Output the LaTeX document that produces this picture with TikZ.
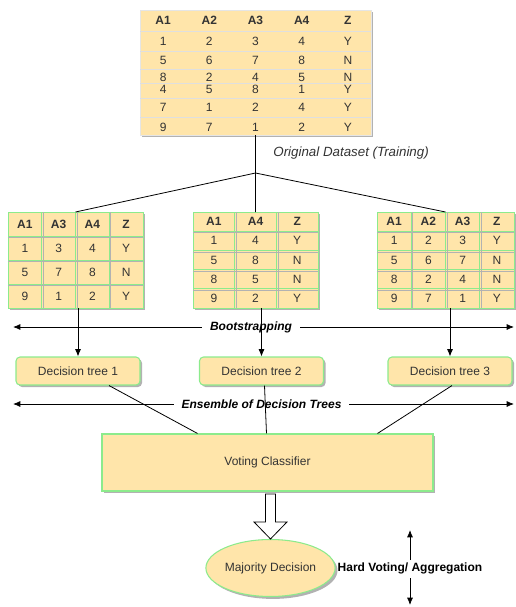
\documentclass[tikz,border=0pt]{standalone}
\usepackage{fontspec}
\setmainfont{Liberation Sans}
\usetikzlibrary{positioning,shapes.geometric,shadows,arrows.meta}
\definecolor{fillc}{RGB}{255,229,170}
\definecolor{edgec}{RGB}{140,235,140}
\definecolor{textc}{RGB}{51,51,51}
\def\px{0.75pt}
\tikzset{
  tip/.tip={Latex[length=5.5pt,width=4.5pt]},
  celltext/.style={text=textc,font=\fontsize{9}{10}\selectfont,inner sep=0pt},
  cellbox/.style={draw=edgec,fill=fillc,line width=0.7pt,inner sep=0pt,text=textc,font=\fontsize{9}{10}\selectfont},
  tableshade/.style={fill=fillc,inner sep=0pt,outer sep=0pt,drop shadow={shadow xshift=1.8pt,shadow yshift=-1.8pt,fill=black,opacity=0.3}},
  origbox/.style={tableshade,draw=gray!20},
  gridc/.style={draw=gray!60,line width=0.4pt},
  faint/.style={draw=gray!25,line width=0.4pt},
  treebox/.style={draw=edgec,fill=fillc,line width=0.8pt,rounded corners=3pt,minimum width=124*\px,minimum height=28*\px,text=textc,font=\fontsize{9}{10}\selectfont,drop shadow={shadow xshift=1.5pt,shadow yshift=-1.5pt,fill=black,opacity=0.3}},
  votebox/.style={draw=edgec,fill=fillc,line width=0.8pt,minimum width=331*\px,minimum height=57*\px,text=textc,font=\fontsize{9}{10}\selectfont,drop shadow={shadow xshift=1.8pt,shadow yshift=-1.8pt,fill=black,opacity=0.3}},
  majbox/.style={ellipse,draw=edgec,fill=fillc,line width=0.8pt,inner sep=0pt,minimum width=125*\px,minimum height=57*\px,text=textc,font=\fontsize{9}{10}\selectfont,drop shadow={shadow xshift=1.8pt,shadow yshift=-1.8pt,fill=black,opacity=0.3}},
  lbl/.style={fill=white,font=\bfseries\itshape\fontsize{9}{10}\selectfont,inner xsep=6pt,inner ysep=1pt},
  blockarrow/.style={draw=black,fill=white,line width=0.6pt},
  hvlbl/.style={font=\bfseries\fontsize{9}{10}\selectfont,inner sep=1pt}
}
% one bootstrap sample: name, x, y, columns, rows, cell width, cell height, data
\newcommand{\bagtable}[8]{%
  \node[tableshade,minimum width=#4*#6*\px,minimum height=#5*#7*\px,anchor=north west] (#1) at (#2,#3) {};
  \foreach \row [count=\r] in {#8} {
    \foreach \cell [count=\c] in \row
      \node[cellbox,minimum width=#6*\px,minimum height=#7*\px] (#1-\r-\c) at ({#2+(\c-0.5)*#6},{#3+(\r-0.5)*#7}) {\ifnum\r=1 \bfseries\fi\cell};
  }
  \foreach \r in {2,...,#5} \draw[gridc] ({#2},{#3+(\r-1)*#7+1.5}) -- ++({#4*#6},0);
  \foreach \c in {2,...,#4} \draw[gridc] ({#2+(\c-1)*#6+1.5},{#3}) -- ++(0,{#5*#7});
}
\begin{document}
\begin{tikzpicture}[x=\px,y=-\px,line width=0.6pt]
\useasboundingbox (0,0) rectangle (516,607);

% original dataset
\node[origbox,minimum width=231*\px,minimum height=125*\px,anchor=north west] (orig) at (140,10) {};
\foreach \yy in {31,51,69,83,98,117} \draw[faint] (140,\yy) -- (371,\yy);
\foreach \row [count=\r] in {{A1,A2,A3,A4,Z},{1,2,3,4,Y},{5,6,7,8,N},{8,2,4,5,N},{4,5,8,1,Y},{7,1,2,4,Y},{9,7,1,2,Y}} {
  \pgfmathsetmacro{\yy}{{20,41,60,77,89,107,127}[\r-1]}
  \foreach \cell [count=\c] in \row
    \node[celltext] (orig-\r-\c) at ({140+(\c-0.5)*46.2},\yy) {\ifnum\r=1 \bfseries\fi\cell};
}
\node[celltext,anchor=west,font=\itshape\fontsize{10}{12}\selectfont] (origlbl) at (273,153) {Original Dataset (Training)};

% bootstrap samples
\bagtable{bootA}{8}{212}{4}{4}{33.75}{24}{{A1,A3,A4,Z},{1,3,4,Y},{5,7,8,N},{9,1,2,Y}}
\bagtable{bootB}{193}{212}{3}{5}{41.67}{19.2}{{A1,A4,Z},{1,4,Y},{5,8,N},{8,5,N},{9,2,Y}}
\bagtable{bootC}{377}{212}{4}{5}{34.25}{19.2}{{A1,A2,A3,Z},{1,2,3,Y},{5,6,7,N},{8,2,4,N},{9,7,1,Y}}

\coordinate (split) at (255.5,173);
\draw (orig.south) -- (split);
\draw (split) -- (bootA.north);
\draw (split) -- (bootB.north);
\draw (split) -- (bootC.north);

% trees
\node[treebox] (tree1) at (78,371) {Decision tree 1};
\node[treebox] (tree2) at (261.5,371) {Decision tree 2};
\node[treebox] (tree3) at (450,371) {Decision tree 3};

\coordinate (bsL) at (13,327);
\coordinate (bsR) at (514,327);
\draw[tip-tip] (bsL) -- (bsR);
\node[lbl] (bslbl) at (251,327) {Bootstrapping};

\draw[-tip] (tree1.north |- bootA.south) -- (tree1.north);
\draw[-tip] (tree2.north |- bootB.south) -- (tree2.north);
\draw[-tip] (tree3.north |- bootC.south) -- (tree3.north);

\coordinate (enL) at (13,404);
\coordinate (enR) at (514,404);
\draw[tip-tip] (enL) -- (enR);
\node[lbl] (enlbl) at (261.5,404) {Ensemble of Decision Trees};

% voting
\node[votebox] (vote) at (267.5,462.5) {Voting Classifier};
\draw ([xshift=31*\px]tree1.south) -- ([xshift=-70*\px]vote.north);
\draw ([xshift=3*\px]tree2.south) -- ([xshift=-1*\px]vote.north);
\draw ([xshift=2*\px]tree3.south) -- ([xshift=110*\px]vote.north);

\node[majbox] (maj) at (270.5,568) {Majority Decision};
\draw[blockarrow] (maj.north) -- ++(-16.5,-17) -- ++(11.5,0) -- ++(0,-28) -- ++(10,0) -- ++(0,28) -- ++(11.5,0) -- cycle;

\node[hvlbl,anchor=west] (hv) at (336,568) {Hard Voting/ Aggregation};
\coordinate (hvA) at (410,560);
\coordinate (hvB) at (410,530);
\coordinate (hvC) at (410,578);
\coordinate (hvD) at (410,605);
\draw[-tip] (hvA) -- (hvB);
\draw[-tip] (hvC) -- (hvD);
\end{tikzpicture}
\end{document}
